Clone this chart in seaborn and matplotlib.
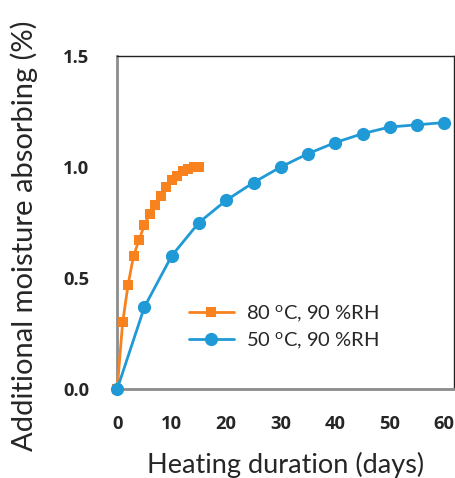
import matplotlib
matplotlib.use("Agg")
import matplotlib.pyplot as plt
import seaborn as sns
import pandas as pd

# Moisture uptake measured at two heating conditions
days_80 = [0, 1, 2, 3, 4, 5, 6, 7, 8, 9, 10, 11, 12, 13, 14, 15]
absorb_80 = [0.0, 0.30, 0.47, 0.60, 0.67, 0.74, 0.79, 0.83, 0.87, 0.91, 0.94, 0.96, 0.98, 0.99, 1.00, 1.00]
days_50 = [0, 5, 10, 15, 20, 25, 30, 35, 40, 45, 50, 55, 60]
absorb_50 = [0.0, 0.37, 0.60, 0.75, 0.85, 0.93, 1.00, 1.06, 1.11, 1.15, 1.18, 1.19, 1.20]
label_80 = "80 $^{\\mathregular{o}}$C, 90 %RH"
label_50 = "50 $^{\\mathregular{o}}$C, 90 %RH"
x_ticks = [0, 10, 20, 30, 40, 50, 60]
y_ticks = [0.0, 0.5, 1.0, 1.5]

sns.set_style("white")
plt.rcParams["font.family"] = ["Lato", "DejaVu Sans"]
plt.rcParams["mathtext.default"] = "regular"

df80 = pd.DataFrame({"days": days_80, "absorb": absorb_80})
df50 = pd.DataFrame({"days": days_50, "absorb": absorb_50})

fig = plt.figure(figsize=(4.56, 4.78), dpi=100)
ax = fig.add_axes([0.257, 0.186, 0.739, 0.697])

orange = "#F7821E"
blue = "#1F9AD6"

sns.lineplot(data=df80, x="days", y="absorb", ax=ax, color=orange, marker="s",
             markersize=7, markeredgewidth=0, linewidth=2, label=label_80,
             clip_on=False, zorder=3)
sns.lineplot(data=df50, x="days", y="absorb", ax=ax, color=blue, marker="o",
             markersize=9.5, markeredgewidth=0, linewidth=2, label=label_50,
             clip_on=False, zorder=3)

tick_font = dict(family=["Open Sans", "DejaVu Sans"], weight="bold", size=13.2)
ax.set_xlim(0, 61.8)
ax.set_ylim(0, 1.5)
ax.set_xticks(x_ticks)
ax.set_xticklabels([str(v) for v in x_ticks], fontdict=tick_font)
ax.set_yticks(y_ticks)
ax.set_yticklabels([f"{v:.1f}" for v in y_ticks], fontdict=tick_font)
ax.tick_params(axis="both", direction="in", length=5, width=1, color="#999999")
ax.tick_params(axis="y", pad=20)
ax.tick_params(axis="x", pad=19)

for side in ("left", "bottom"):
    ax.spines[side].set_color("#8c8c8c")
    ax.spines[side].set_linewidth(2)
for side in ("right", "top"):
    ax.spines[side].set_color("#222222")
    ax.spines[side].set_linewidth(1)

ax.set_xlabel("Heating duration (days)", fontsize=19.5, labelpad=13)
ax.set_ylabel("Additional moisture absorbing (%)", fontsize=21)
ax.yaxis.set_label_coords(-0.235, 0.46)

ax.legend(loc="lower left", bbox_to_anchor=(0.16, 0.06), frameon=False,
          fontsize=14.5, handlelength=2.2, handletextpad=0.6, labelspacing=0.35)

fig.savefig("out.png", dpi=100)
